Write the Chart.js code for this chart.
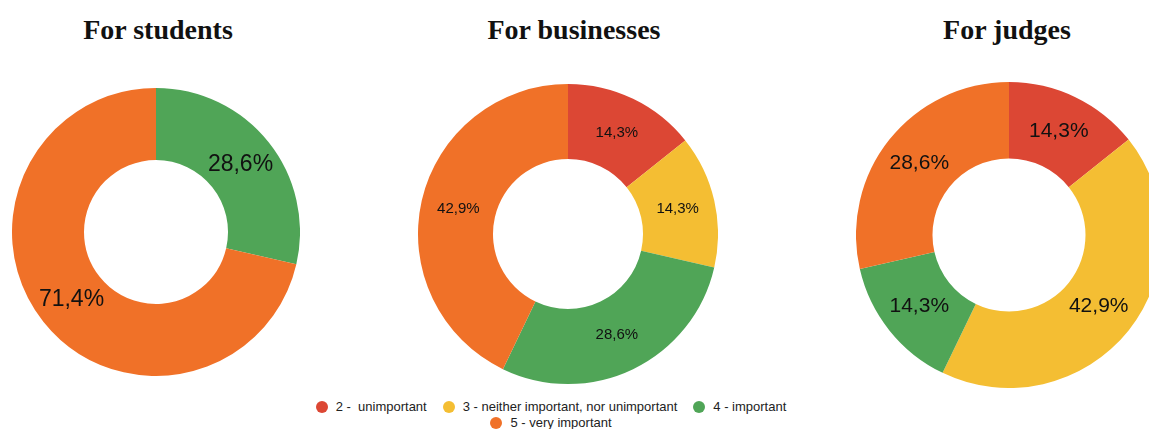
<!DOCTYPE html>
<html>
<head>
<meta charset="utf-8">
<script src="https://cdn.jsdelivr.net/npm/chart.js@4"></script>
<style>
  html, body { margin: 0; padding: 0; background: #fff; }
  body { width: 1149px; height: 429px; position: relative; overflow: hidden; }
  .title {
    position: absolute; top: 16px; width: 300px; text-align: center;
    font: bold 28px/28px "Liberation Serif", "Times New Roman", serif; color: #111;
  }
  .pie { position: absolute; }
  .legend {
    position: absolute; left: 271px; top: 399px; width: 560px;
    display: flex; flex-wrap: wrap; justify-content: center;
    font: 13px/16px "Liberation Sans", Arial, sans-serif; color: #222;
  }
  .legend .item { display: flex; align-items: center; margin: 0 8px; white-space: pre; }
  .legend .dot { width: 12px; height: 12px; border-radius: 50%; margin-right: 8px; }
</style>
</head>
<body>
<div class="title" style="left:8px">For students</div>
<div class="title" style="left:424px">For businesses</div>
<div class="title" style="left:857px">For judges</div>

<canvas class="pie" id="students" width="288" height="288" style="left:12px;top:88px"></canvas>
<canvas class="pie" id="businesses" width="300" height="300" style="left:418px;top:84px"></canvas>
<canvas class="pie" id="judges" width="306" height="306" style="left:856px;top:82px"></canvas>

<div class="legend" id="legend"></div>

<script>
const categories = ['2 -  unimportant', '3 - neither important, nor unimportant', '4 - important', '5 - very important'];
const colors = ['#dc4734', '#f4be33', '#50a557', '#f07128'];

// share of answers, percent
const students = [0, 0, 28.6, 71.4];
const businesses = [14.3, 14.3, 28.6, 42.9];
const judges = [14.3, 42.9, 14.3, 28.6];

// percentage text in the middle of each slice
const sliceLabels = {
  id: 'sliceLabels',
  afterDatasetsDraw(chart, args, opts) {
    const ctx = chart.ctx;
    const data = chart.data.datasets[0].data;
    ctx.save();
    ctx.font = opts.size + 'px "Liberation Sans", Arial, sans-serif';
    ctx.fillStyle = '#111';
    ctx.textAlign = 'center';
    ctx.textBaseline = 'middle';
    chart.getDatasetMeta(0).data.forEach((arc, i) => {
      if (!data[i]) return;
      const p = arc.tooltipPosition();
      ctx.fillText(data[i].toFixed(1).replace('.', ',') + '%', p.x, p.y);
    });
    ctx.restore();
  }
};

function donut(id, values, size) {
  return new Chart(document.getElementById(id), {
    type: 'doughnut',
    data: {
      labels: categories,
      datasets: [{ data: values, backgroundColor: colors, borderWidth: 0 }]
    },
    options: {
      responsive: false,
      animation: false,
      cutout: '50%',
      layout: { padding: 0 },
      plugins: {
        legend: { display: false },
        tooltip: { enabled: false },
        sliceLabels: { size: size }
      }
    },
    plugins: [sliceLabels]
  });
}

donut('students', students, 23);
donut('businesses', businesses, 15);
donut('judges', judges, 21);

const legend = document.getElementById('legend');
categories.forEach((c, i) => {
  const item = document.createElement('div');
  item.className = 'item';
  item.innerHTML = '<span class="dot" style="background:' + colors[i] + '"></span><span>' + c + '</span>';
  legend.appendChild(item);
});
</script>
</body>
</html>
